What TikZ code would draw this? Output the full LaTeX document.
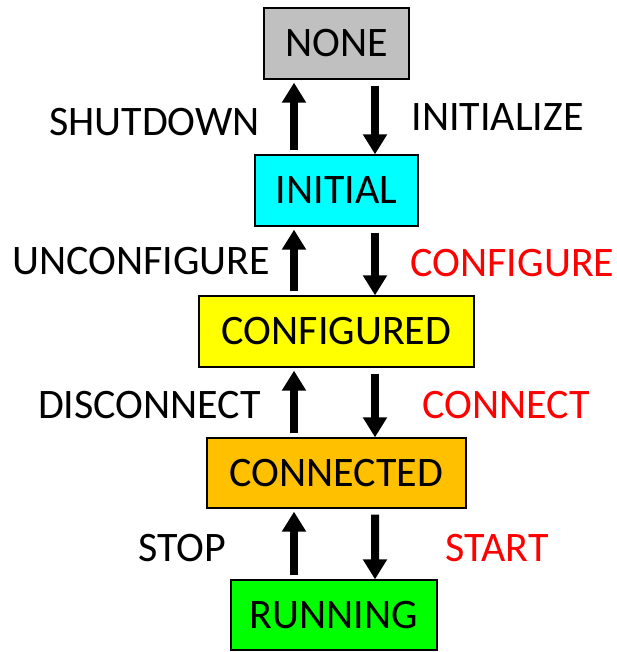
\documentclass[tikz,border=0pt]{standalone}
\usepackage{fontspec}
\setmainfont{Carlito}
\usepackage{xcolor}
\usepackage{tikz}
\usetikzlibrary{arrows.meta,calc,positioning}
\definecolor{nonegray}{HTML}{C0C0C0}
\definecolor{initcyan}{HTML}{00FFFF}
\definecolor{cfgyellow}{HTML}{FFFF00}
\definecolor{connorange}{HTML}{FFC000}
\definecolor{rungreen}{HTML}{00FF00}
\definecolor{cmdred}{HTML}{FF0000}

\begin{document}
\begin{tikzpicture}[x=1bp,y=-1bp,
  statebox/.style={draw=black,line width=1.3bp,minimum height=71bp,inner sep=0pt,
    font=\fontsize{42bp}{50bp}\selectfont},
  cmd/.style={font=\fontsize{42bp}{50bp}\selectfont,inner sep=0pt},
  upcmd/.style={line width=8bp,-{Triangle[width=23bp,length=20bp]}},
  downcmd/.style={line width=8bp,-{Triangle[width=23bp,length=20bp]}}]
\useasboundingbox (0,0) rectangle (617,652);
% states
\node[statebox,fill=nonegray,minimum width=145bp] (none) at (336.5,43.5) {NONE};
\node[statebox,fill=initcyan,minimum width=163bp] (initial) at (336.5,190.5) {INITIAL};
\node[statebox,fill=cfgyellow,minimum width=275bp] (configured) at (336.5,331.5) {CONFIGURED};
\node[statebox,fill=connorange,minimum width=259bp,minimum height=70bp] (connected) at (336.5,473) {CONNECTED};
\node[statebox,fill=rungreen,minimum width=206bp,minimum height=70bp] (running) at (334,615) {RUNNING};
% transitions
\draw[upcmd] ($(initial.north)+(-42.5,-4)$) -- ($(none.south)+(-42.5,3)$);
\draw[downcmd] ($(none.south)+(38.5,6)$) -- ($(initial.north)+(38.5,0)$);
\draw[upcmd] ($(configured.north)+(-42.5,-4)$) -- ($(initial.south)+(-42.5,3)$);
\draw[downcmd] ($(initial.south)+(38.5,6)$) -- ($(configured.north)+(38.5,0)$);
\draw[upcmd] ($(connected.north)+(-42.5,-4)$) -- ($(configured.south)+(-42.5,3)$);
\draw[downcmd] ($(configured.south)+(38.5,6)$) -- ($(connected.north)+(38.5,0)$);
\draw[upcmd] ($(running.north)+(-40,-4)$) -- ($(connected.south)+(-42.5,3)$);
\draw[downcmd] ($(connected.south)+(38.5,6)$) -- ($(running.north)+(41,0)$);
% labels
\node[cmd] (shutdown) at (154.5,122) {SHUTDOWN};
\node[cmd] (initialize) at (497.5,117) {INITIALIZE};
\node[cmd] (unconfigure) at (141,261) {UNCONFIGURE};
\node[cmd,text=cmdred] (configure) at (512.5,263) {CONFIGURE};
\node[cmd] (disconnect) at (149.5,405) {DISCONNECT};
\node[cmd,text=cmdred] (connect) at (506,405) {CONNECT};
\node[cmd] (stop) at (182,548) {STOP};
\node[cmd,text=cmdred] (start) at (497,548) {START};
\end{tikzpicture}
\end{document}
